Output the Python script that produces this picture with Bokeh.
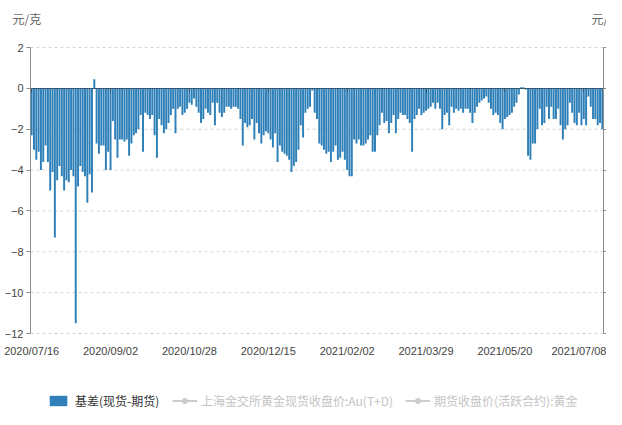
from bokeh.plotting import figure
from bokeh.models import (Range1d, LinearAxis, FixedTicker, Legend, LegendItem,
                          Label)
from bokeh.embed import file_html
from bokeh.resources import INLINE

# ---------------- data ----------------
basis = [
    -2.3, -3.0, -3.5, -3.1, -4.0, -3.6, -2.8, -3.6, -5.0, -4.1,
    -7.3, -4.5, -3.8, -4.3, -5.0, -4.5, -4.6, -4.0, -4.3, -11.5,
    -4.8, -3.8, -4.1, -4.3, -5.6, -4.2, -5.1, 0.45, -2.7, -3.2,
    -2.8, -2.8, -4.0, -3.1, -4.0, -1.6, -2.5, -3.4, -2.5, -2.5,
    -2.6, -2.5, -3.3, -2.7, -2.3, -2.2, -2.0, -1.3, -3.1, -1.2,
    -1.3, -1.5, -1.3, -2.3, -3.4, -1.5, -1.8, -2.2, -2.0, -1.7,
    -1.3, -1.0, -2.2, -1.0, -0.9, -1.3, -1.2, -1.0, -0.7, -0.8,
    -0.5, -0.9, -1.2, -1.7, -1.5, -1.0, -1.2, -1.3, -0.7, -1.8,
    -0.7, -1.2, -1.4, -1.2, -0.9, -0.9, -1.0, -0.9, -0.9, -1.0,
    -1.5, -2.8, -1.7, -1.9, -1.8, -1.5, -2.5, -1.7, -2.2, -2.7,
    -2.3, -2.1, -2.2, -2.5, -2.9, -2.2, -3.6, -2.8, -3.1, -3.2,
    -3.3, -3.5, -4.1, -3.8, -3.6, -3.0, -1.8, -2.4, -1.2, -1.0,
    -0.9,
    -0.1, -1.2, -1.5, -2.7, -2.8, -3.0, -3.2, -3.1, -3.6, -3.1,
    -2.8, -3.5, -3.4, -3.1, -3.5, -4.0, -4.3, -4.3, -2.5, -2.7,
    -2.5, -2.8, -2.8, -2.7, -2.5, -2.3, -3.1, -3.1, -2.3, -1.8,
    -1.2, -1.7, -1.6, -2.2, -1.7, -1.3, -2.2, -1.5, -1.2, -1.3,
    -1.3, -1.5, -1.7, -3.1, -1.5, -1.3, -1.0, -1.3, -1.2, -1.1,
    -1.0, -0.9, -0.7, -1.0, -0.7, -1.0, -2.0, -1.3, -1.2, -1.8,
    -0.9, -1.2, -1.0, -1.1, -1.0, -1.2, -1.0, -1.0, -1.2, -1.7,
    -1.2, -0.9, -0.7, -0.6, -0.5, -0.4, -0.7, -1.0, -1.3, -1.2,
    -1.3, -1.7, -2.0, -1.5, -1.4, -1.3, -1.2, -0.9, -0.7, -0.3,
    0.05, 0.05, -0.05, -3.3, -3.5, -2.7, -2.7, -2.0, -1.0, -1.8,
    -1.7, -0.9, -1.5, -0.9, -1.5, -1.5, -1.0, -1.8, -2.5, -2.0,
    -1.8, -0.7, -1.2, -1.7, -1.8, -1.2, -1.8, -1.5, -1.8, -0.4,
    -0.9, -1.5, -1.5, -1.8, -1.7, -2.0,
]
tick_labels = ["2020/07/16", "2020/09/02", "2020/10/28", "2020/12/15",
               "2021/02/02", "2021/03/29", "2021/05/20", "2021/07/08"]
label_step = 34
series_names = ["基差(现货-期货)", "上海金交所黄金现货收盘价:Au(T+D)",
                "期货收盘价(活跃合约):黄金"]
# the two price series are switched off in the chart: no values are shown
hidden_values = [float("nan")]
unit = "元/克"
y_ticks = [2, 0, -2, -4, -6, -8, -10, -12]

# ---------------- layout constants (pixels inside the canvas) ----------------
W, H = 606, 409
PLOT_L, PLOT_R = 30, 603      # x pixel of first / last category edge
PLOT_T, PLOT_B = 47, 333      # y pixel of y=2 / y=-12
Y_TOP, Y_BOT = 2, -12

CJK = "Noto Sans CJK SC"
LAT = "Liberation Sans"
AXIS_GREY = "#8c8c8c"
INACTIVE = "#cccccc"

n = len(basis)
idx = list(range(n))

# data ranges chosen so that the frame fills the whole canvas
sx = (PLOT_R - PLOT_L) / n
sy = (PLOT_B - PLOT_T) / (Y_TOP - Y_BOT)
x_start = -0.5 - PLOT_L / sx
x_end = n - 0.5 + (W - PLOT_R) / sx
y_end = Y_TOP + PLOT_T / sy
y_start = Y_BOT - (H - PLOT_B) / sy

p = figure(width=W, height=H, output_backend="svg", toolbar_location=None,
           x_range=Range1d(x_start, x_end), y_range=Range1d(y_start, y_end),
           x_axis_location=None, y_axis_location=None, min_border=0)
p.outline_line_color = None
p.background_fill_color = "white"
p.border_fill_color = "white"
p.center = []  # drop default grids

# dashed horizontal grid lines, only across the plot area
grid_ticks = [t for t in y_ticks if t != 0]
p.multi_line(xs=[[-0.5, n - 0.5] for _ in grid_ticks],
             ys=[[t, t] for t in grid_ticks],
             line_color="#d4d4d4", line_dash="3 3", line_width=1)

# bars
bars = p.vbar(x=idx, top=basis, bottom=0, width=0.85,
              fill_color="#2f80b8", line_color=None)

# deselected series: nothing drawn in the plot, greyed legend entries
hid_x = list(range(len(hidden_values)))
spot_line = p.line(x=hid_x, y=hidden_values, line_color=INACTIVE, line_width=2)
spot_dot = p.scatter(x=hid_x, y=hidden_values, size=9, fill_color=INACTIVE,
                     line_color=INACTIVE)
fut_line = p.line(x=hid_x, y=hidden_values, line_color=INACTIVE, line_width=2)
fut_dot = p.scatter(x=hid_x, y=hidden_values, size=9, fill_color=INACTIVE,
                    line_color=INACTIVE)

xticks = [i * label_step for i in range(len(tick_labels))]

# left value axis
yaxis = LinearAxis(ticker=FixedTicker(ticks=y_ticks), fixed_location=-0.5,
                   bounds=(Y_BOT, Y_TOP),
                   axis_line_color=AXIS_GREY, major_tick_line_color=AXIS_GREY,
                   major_tick_out=4, major_tick_in=0,
                   minor_tick_line_color=None,
                   major_label_text_font_size="11px",
                   major_label_text_font=LAT,
                   major_label_text_color="#444444",
                   major_label_standoff=3)
p.add_layout(yaxis, "left")

# right value axis (its series is hidden -> no labels)
raxis = LinearAxis(ticker=FixedTicker(ticks=y_ticks), fixed_location=n - 0.5,
                   bounds=(Y_BOT, Y_TOP),
                   axis_line_color=AXIS_GREY, major_tick_line_color=AXIS_GREY,
                   major_tick_out=3, major_tick_in=0,
                   minor_tick_line_color=None,
                   major_label_text_color=None)
p.add_layout(raxis, "right")

# category axis line sitting on zero
zaxis = LinearAxis(ticker=FixedTicker(ticks=xticks), fixed_location=0,
                   bounds=(-0.5, n - 0.5),
                   axis_line_color="#34566f", axis_line_width=1,
                   major_tick_line_color="#34566f", major_tick_out=4,
                   major_tick_in=0, minor_tick_line_color=None,
                   major_label_text_color=None)
p.add_layout(zaxis, "below")

# date labels below the plot
xaxis = LinearAxis(ticker=FixedTicker(ticks=xticks), fixed_location=Y_BOT,
                   major_label_overrides={t: lbl for t, lbl in zip(xticks, tick_labels)},
                   axis_line_color=None, major_tick_line_color=None,
                   major_tick_out=0, major_tick_in=0,
                   minor_tick_line_color=None,
                   major_label_text_font_size="11px",
                   major_label_text_font=LAT,
                   major_label_text_color="#444444",
                   major_label_standoff=11)
p.add_layout(xaxis, "below")

# axis names (units)
p.add_layout(Label(x=12, y=H - 18, x_units="screen", y_units="screen", text=unit,
                   text_font=CJK, text_font_size="12px", text_color="#666666",
                   text_baseline="middle"))
p.add_layout(Label(x=591, y=H - 18, x_units="screen", y_units="screen", text=unit,
                   text_font=CJK, text_font_size="12px", text_color="#666666",
                   text_baseline="middle"))

# legend: active series
legend_a = Legend(items=[LegendItem(label=series_names[0], renderers=[bars])],
                  orientation="horizontal", location=(47, 0),
                  glyph_width=22, glyph_height=13, label_standoff=6,
                  padding=0, margin=0, border_line_color=None,
                  background_fill_alpha=0,
                  label_text_font=CJK, label_text_font_size="12px",
                  label_text_color="#333333")
p.add_layout(legend_a)

# legend: deselected series (greyed)
legend_b = Legend(items=[
    LegendItem(label=series_names[1], renderers=[spot_line, spot_dot]),
    LegendItem(label=series_names[2], renderers=[fut_line, fut_dot]),
], orientation="horizontal", location=(172, 0),
    glyph_width=25, glyph_height=13, label_standoff=4, spacing=12,
    padding=0, margin=0, border_line_color=None, background_fill_alpha=0,
    label_text_font=CJK, label_text_font_size="12px",
    label_text_color="#c4c4c4")
p.add_layout(legend_b)

open("out.html", "w").write(file_html(p, INLINE))
